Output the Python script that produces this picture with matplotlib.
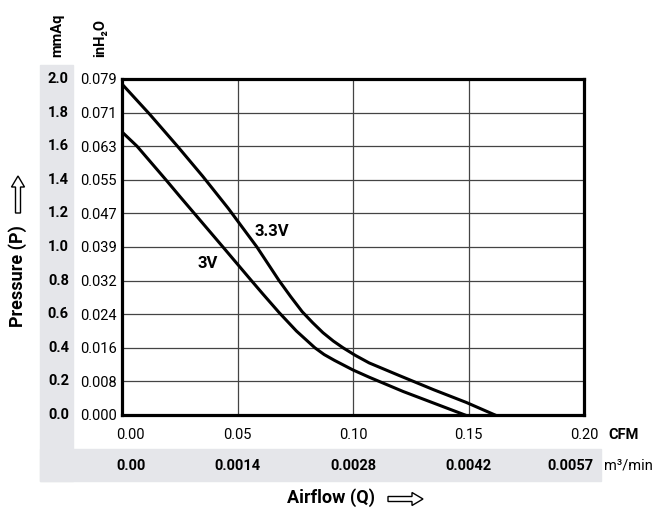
import matplotlib
matplotlib.use("Agg")
import matplotlib.pyplot as plt
import matplotlib.transforms as mtransforms
from matplotlib.patches import Rectangle, FancyArrow

plt.rcParams['font.family'] = ['Roboto', 'DejaVu Sans']

# data (pressure in mmAq, airflow in CFM)
q_33v = [0, 0.012, 0.024, 0.035, 0.046, 0.0584, 0.068, 0.073, 0.078, 0.0825, 0.087, 0.0915,
         0.0957, 0.101, 0.107, 0.12, 0.135, 0.149, 0.1615]
p_33v = [1.97, 1.79, 1.60, 1.42, 1.23, 1.00, 0.80, 0.705, 0.615, 0.55, 0.49, 0.44,
         0.40, 0.355, 0.31, 0.235, 0.15, 0.075, 0.0]
q_3v = [0, 0.0065, 0.019, 0.0251, 0.0313, 0.0437, 0.0554, 0.061, 0.068, 0.0755, 0.0835, 0.0875,
        0.092, 0.10, 0.107, 0.1217, 0.1485]
p_3v = [1.685, 1.60, 1.40, 1.30, 1.20, 1.00, 0.81, 0.72, 0.61, 0.50, 0.40, 0.36,
        0.325, 0.268, 0.225, 0.14, 0.0]

y_ticks = [0.0, 0.2, 0.4, 0.6, 0.8, 1.0, 1.2, 1.4, 1.6, 1.8, 2.0]
mmaq_labels = ['0.0', '0.2', '0.4', '0.6', '0.8', '1.0', '1.2', '1.4', '1.6', '1.8', '2.0']
inh2o_labels = ['0.000', '0.008', '0.016', '0.024', '0.032', '0.039', '0.047', '0.055', '0.063', '0.071', '0.079']
x_ticks = [0.0, 0.05, 0.10, 0.15, 0.20]
cfm_labels = ['0.00', '0.05', '0.10', '0.15', '0.20']
m3_labels = ['0.00', '0.0014', '0.0028', '0.0042', '0.0057']

W, H = 656, 508
fig = plt.figure(figsize=(W / 100, H / 100), dpi=100)

def fx(px):
    return px / W

def fy(py):
    return 1 - py / H

# grey bands (L shape)
band = '#e5e6ea'
fig.patches.append(Rectangle((fx(40), fy(481)), fx(73) - fx(40), fy(65) - fy(481),
                             transform=fig.transFigure, color=band, zorder=0))
fig.patches.append(Rectangle((fx(40), fy(481)), fx(601) - fx(40), fy(449) - fy(481),
                             transform=fig.transFigure, color=band, zorder=0))

ax = fig.add_axes([fx(122), fy(415), fx(584) - fx(122), fy(79) - fy(415)])
ax.set_facecolor('white')
ax.set_xlim(0, 0.2)
ax.set_ylim(0, 2.0)

ax.plot(q_33v, p_33v, color='black', lw=2.2, solid_joinstyle='round', zorder=3)
ax.plot(q_3v, p_3v, color='black', lw=2.2, solid_joinstyle='round', zorder=3)
ax.text(0.0647, 1.095, '3.3V', fontsize=12, fontweight='bold', ha='center', va='center')
ax.text(0.0370, 0.899, '3V', fontsize=12, fontweight='bold', ha='center', va='center')

ax.set_yticks(y_ticks)
ax.set_yticklabels(inh2o_labels, fontsize=10.5)
ax.set_xticks(x_ticks)
ax.set_xticklabels([])
ax.tick_params(length=0, pad=4)
ax.grid(True, color='#444444', lw=0.9)
for s in ax.spines.values():
    s.set_linewidth(2.3)
    s.set_zorder(4)

# mmAq labels (left column)
tr_y = mtransforms.blended_transform_factory(fig.transFigure, ax.transData)
for v, lab in zip(y_ticks, mmaq_labels):
    fig.text(fx(69), v, lab, transform=tr_y, fontsize=10.5, fontweight='bold',
             ha='right', va='center')

# x labels: CFM row and m3/min row
tr_x = mtransforms.blended_transform_factory(ax.transData, fig.transFigure)
for i, (v, lab) in enumerate(zip(x_ticks, cfm_labels)):
    ha = 'left' if i == 0 else 'center'
    t = mtransforms.offset_copy(tr_x, fig, x=-6 if i == 0 else 0, units='dots')
    fig.text(v, fy(435), lab, transform=t, fontsize=10.5, ha=ha, va='center')
for i, (v, lab) in enumerate(zip(x_ticks, m3_labels)):
    if i == 0:
        ha, dx = 'left', -6
    elif i == len(x_ticks) - 1:
        ha, dx = 'right', 9
    else:
        ha, dx = 'center', 0
    t = mtransforms.offset_copy(tr_x, fig, x=dx, units='dots')
    fig.text(v, fy(466), lab, transform=t, fontsize=10.5, fontweight='bold', ha=ha, va='center')

fig.text(fx(608), fy(435), 'CFM', fontsize=10.5, fontweight='bold', ha='left', va='center')
fig.text(fx(604), fy(466), 'm³/min', fontsize=10.5, ha='left', va='center')

# column headers
fig.text(fx(57), fy(57), 'mmAq', rotation=90, fontsize=10.5, fontweight='bold', ha='center', va='bottom')
fig.text(fx(100), fy(57), 'inH₂O', rotation=90, fontsize=10.5, fontweight='bold', ha='center', va='bottom')

# axis titles with hollow arrows
fig.text(fx(331), fy(498), 'Airflow (Q)', fontsize=13, fontweight='bold', ha='center', va='center')
fig.text(fx(18), fy(276), 'Pressure (P)', rotation=90, fontsize=13, fontweight='bold', ha='center', va='center')

fig.patches.append(FancyArrow(fx(388), fy(499), fx(423) - fx(388), 0, width=5 / H,
                              head_width=13 / H, head_length=11 / W, length_includes_head=True,
                              transform=fig.transFigure, facecolor='white', edgecolor='black', lw=1))
fig.patches.append(FancyArrow(fx(18), fy(213), 0, fy(176) - fy(213), width=5 / W,
                              head_width=13 / W, head_length=11 / H, length_includes_head=True,
                              transform=fig.transFigure, facecolor='white', edgecolor='black', lw=1))

fig.savefig('out.png', dpi=100)
